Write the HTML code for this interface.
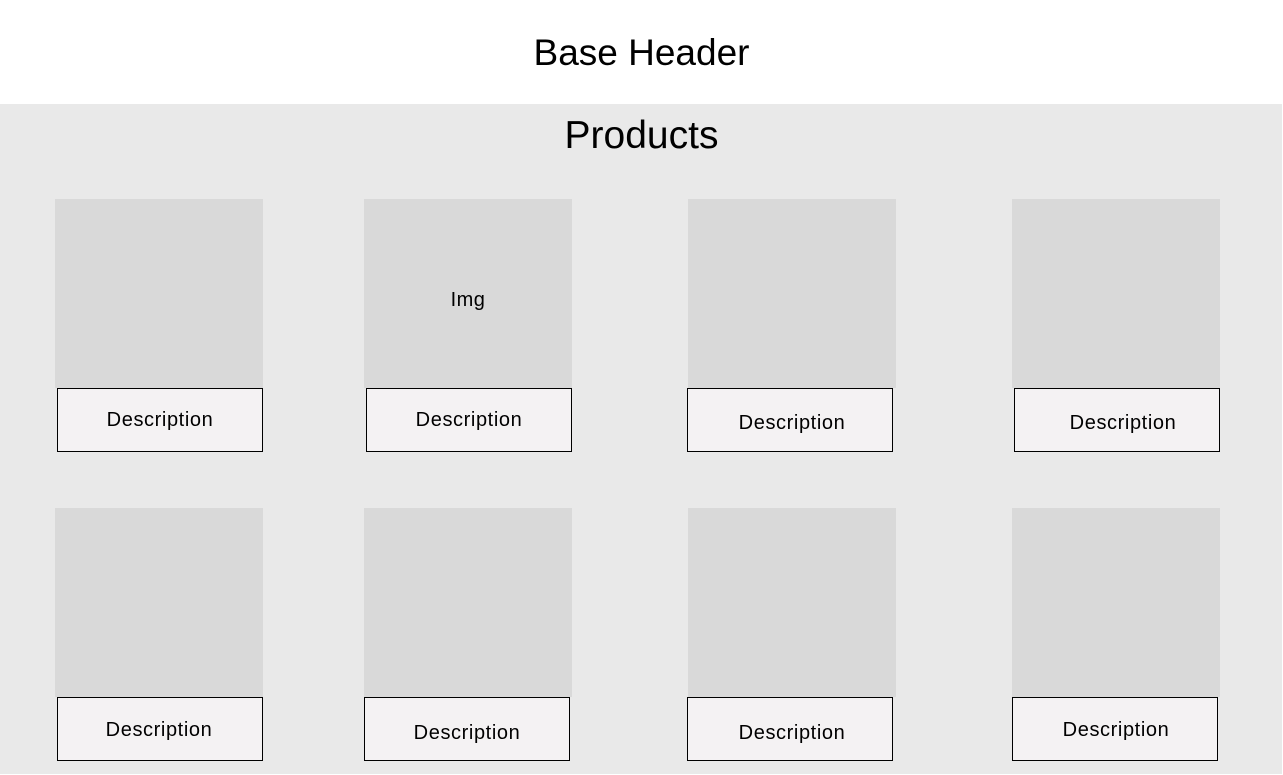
<!DOCTYPE html>
<html><head><style>
body{margin:0;width:1283px;height:775px;background:#fff;position:relative;overflow:hidden;font-family:"Liberation Sans",sans-serif;}
.t{position:absolute;left:0;width:1283px;text-align:center;color:#000;}
.bg{position:absolute;left:0;top:104px;width:1282px;height:670px;background:#e9e9e9;}
.img{position:absolute;width:208px;height:189px;background:#d9d9d9;}
.d{position:absolute;width:204px;height:62px;border:1px solid #000;background:#f4f2f3;}
.d span{position:absolute;left:0;right:0;text-align:center;font-size:20px;letter-spacing:0.6px;}
</style></head><body>
<div class="t" style="top:30px;font-size:37px;line-height:46px">Base Header</div>
<div class="bg"></div>
<div class="t" style="top:113px;font-size:39px;line-height:46px">Products</div>
<div class="img" style="left:55px;top:199px"></div>
<div class="img" style="left:364px;top:199px"><div style="position:absolute;top:90px;width:100%;text-align:center;font-size:20px;letter-spacing:0.5px">Img</div></div>
<div class="img" style="left:688px;top:199px"></div>
<div class="img" style="left:1012px;top:199px"></div>
<div class="img" style="left:55px;top:508px"></div>
<div class="img" style="left:364px;top:508px"></div>
<div class="img" style="left:688px;top:508px"></div>
<div class="img" style="left:1012px;top:508px"></div>
<div class="d" style="left:57px;top:388px"><span style="top:20px">Description</span></div>
<div class="d" style="left:366px;top:388px"><span style="top:20px">Description</span></div>
<div class="d" style="left:687px;top:388px"><span style="top:23px;left:4px">Description</span></div>
<div class="d" style="left:1014px;top:388px"><span style="top:23px;left:12px">Description</span></div>
<div class="d" style="left:57px;top:697px"><span style="top:21px;left:-2px">Description</span></div>
<div class="d" style="left:364px;top:697px"><span style="top:24px">Description</span></div>
<div class="d" style="left:687px;top:697px"><span style="top:24px;left:4px">Description</span></div>
<div class="d" style="left:1012px;top:697px"><span style="top:21px;left:2px">Description</span></div>
</body></html>
